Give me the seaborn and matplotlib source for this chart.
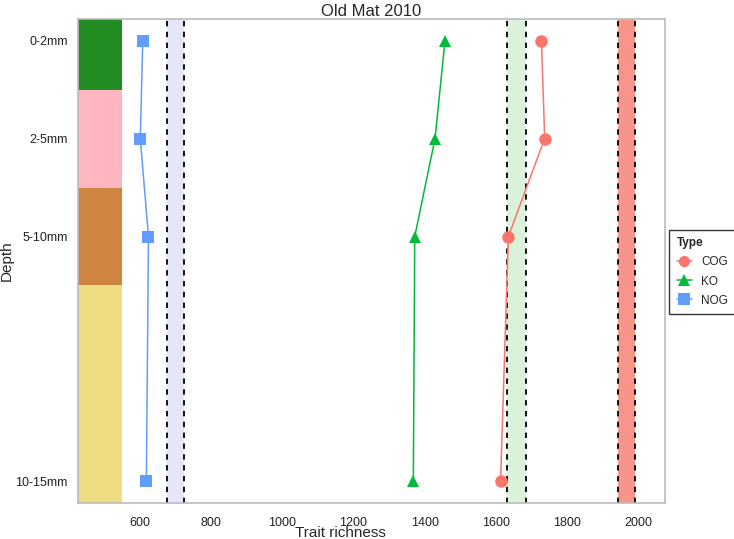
import matplotlib
matplotlib.use("Agg")
import matplotlib.pyplot as plt
import seaborn as sns
import pandas as pd

# ---- data ----
depth_labels = ["0-2mm", "2-5mm", "5-10mm", "10-15mm"]
depth_pos = [1, 2, 3, 5.5]
cog = [1728, 1737, 1635, 1613]
ko = [1457, 1429, 1372, 1368]
nog = [608, 601, 624, 618]
types = ["COG", "KO", "NOG"]
type_colors = ["#F8766D", "#00BA38", "#619CFF"]
type_markers = ["o", "^", "s"]

# null-model ranges (dashed bands)
band_lo = [1944, 1632, 676]
band_hi = [1992, 1684, 723]
band_colors = ["#F7958B", "#D9F2D9", "#E6E6FA"]

# depth layer strips
layer_bounds = [0.78, 1.5, 2.5, 3.5, 5.72]
layer_colors = ["#228B22", "#FFB6C1", "#CD853F", "#EDDC82"]
strip_right = 551
xlim = (426, 2075)

df = pd.DataFrame({
    "Trait richness": cog + ko + nog,
    "Depth": depth_pos * 3,
    "Type": [t for t in types for _ in depth_pos],
})

sns.set_style("white")
plt.rcParams["font.family"] = ["Liberation Sans", "DejaVu Sans"]

fig = plt.figure(figsize=(7.34, 5.39), dpi=100)
ax = fig.add_axes([78 / 734, 36 / 539, (665 - 78) / 734, (503 - 19) / 539])

# layer strips
for i, c in enumerate(layer_colors):
    ax.fill_betweenx([layer_bounds[i], layer_bounds[i + 1]], xlim[0], strip_right,
                     color=c, lw=0, zorder=1)

# bands
for lo, hi, c in zip(band_lo, band_hi, band_colors):
    ax.axvspan(lo, hi, color=c, lw=0, zorder=1)
    ax.axvline(lo, color="black", ls=(0, (3, 3)), lw=1.3, zorder=2)
    ax.axvline(hi, color="black", ls=(0, (3, 3)), lw=1.3, zorder=2)

sns.lineplot(data=df, x="Trait richness", y="Depth", hue="Type", style="Type",
             hue_order=types, style_order=types,
             palette=dict(zip(types, type_colors)),
             markers=dict(zip(types, type_markers)), dashes=False,
             orient="y", sort=True, markersize=9, markeredgewidth=0,
             lw=1.1, ax=ax, zorder=3, legend=True)

ax.set_xlim(*xlim)
ax.set_ylim(layer_bounds[-1], layer_bounds[0])
ax.set_yticks(depth_pos)
ax.set_yticklabels(depth_labels)
ax.set_xticks([600, 800, 1000, 1200, 1400, 1600, 1800, 2000])
ax.tick_params(axis="both", which="both", length=4, color="#999999",
               labelsize=9, labelcolor="#222222", direction="out", width=1)
ax.tick_params(axis="x", pad=6)
for s in ax.spines.values():
    s.set_color("#BBBBBB")
    s.set_linewidth(1.2)

ax.set_xlabel("Trait richness", fontsize=11)
ax.set_ylabel("Depth", fontsize=11)
ax.xaxis.set_label_coords((340 - 78) / (665 - 78), -0.047)
ax.yaxis.set_label_coords((14 - 78) / (665 - 78), 0.5)
ax.set_title("Old Mat 2010", fontsize=12, pad=2)

handles, labels = ax.get_legend_handles_labels()
ax.get_legend().remove()
leg = fig.legend(handles, labels, title="Type", loc="center left",
                 bbox_to_anchor=(669 / 734, 1 - 272 / 539), frameon=True,
                 fancybox=False, edgecolor="black", fontsize=8.5,
                 title_fontproperties={"weight": "bold", "size": 8.5},
                 handlelength=1.3, borderpad=0.65, labelspacing=0.6,
                 handletextpad=0.8, borderaxespad=0, alignment="left",
                 markerscale=0.9)
leg.get_frame().set_linewidth(1.0)

fig.savefig("out.png", dpi=100)
